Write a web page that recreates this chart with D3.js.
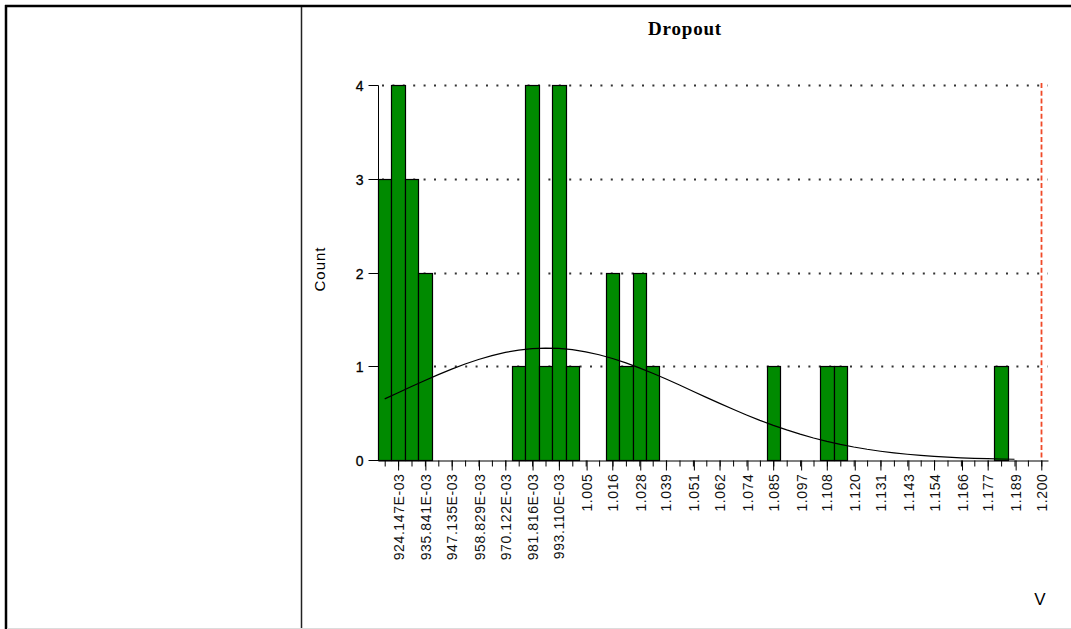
<!DOCTYPE html>
<html>
<head>
<meta charset="utf-8">
<script src="https://cdn.jsdelivr.net/npm/d3@7"></script>
<style>
  html, body { margin: 0; padding: 0; background: #fff; }
  svg { display: block; }
</style>
</head>
<body>
<svg id="chart" width="1071" height="629"></svg>
<script>
// Dropout voltage histogram: bin centres (V) and counts of the occupied bins
const binCenters = [0.91840, 0.92415, 0.92989, 0.93564, 0.97587, 0.98162, 0.98736,
                    0.99311, 0.99886, 1.01610, 1.02185, 1.02759, 1.03334, 1.08506,
                    1.10805, 1.11380, 1.18276];
const binCounts  = [3, 4, 3, 2, 1, 4, 1, 4, 1, 2, 1, 2, 1, 1, 1, 1, 1];
const binWidth = 0.0057469;

// Labelled x ticks
const xTickValues = [0.924147, 0.935841, 0.947135, 0.958829, 0.970122, 0.981816, 0.993110,
                     1.005, 1.016, 1.028, 1.039, 1.051, 1.062, 1.074, 1.085, 1.097, 1.108,
                     1.120, 1.131, 1.143, 1.154, 1.166, 1.177, 1.189, 1.200];
const xTickLabels = ["924.147E-03", "935.841E-03", "947.135E-03", "958.829E-03", "970.122E-03",
                     "981.816E-03", "993.110E-03", "1.005", "1.016", "1.028", "1.039", "1.051",
                     "1.062", "1.074", "1.085", "1.097", "1.108", "1.120", "1.131", "1.143",
                     "1.154", "1.166", "1.177", "1.189", "1.200"];
const yTickValues = [0, 1, 2, 3, 4];
const upperLimit = 1.200;

const title = "Dropout";
const yTitle = "Count";
const unit = "V";

const svg = d3.select("#chart");

// ---- page frame -------------------------------------------------------
const frame = svg.append("g");
frame.append("line").attr("x1", 5).attr("x2", 1071).attr("y1", 6).attr("y2", 6)
  .attr("stroke", "#000").attr("stroke-width", 2.5);
frame.append("line").attr("x1", 6).attr("x2", 6).attr("y1", 5).attr("y2", 629)
  .attr("stroke", "#000").attr("stroke-width", 2.5);
frame.append("line").attr("x1", 301.5).attr("x2", 301.5).attr("y1", 7).attr("y2", 629)
  .attr("stroke", "#222").attr("stroke-width", 1.5);
frame.append("line").attr("x1", 7).attr("x2", 1071).attr("y1", 628.5).attr("y2", 628.5)
  .attr("stroke", "#dcdcdc").attr("stroke-width", 1);

// ---- scales -----------------------------------------------------------
const nBins = 50;
const firstCenter = xTickValues[0] - binWidth;
const x = d3.scaleLinear()
  .domain([firstCenter - binWidth / 2, firstCenter + (nBins - 0.5) * binWidth])
  .range([378, 1048]);
const y = d3.scaleLinear().domain([0, 4]).range([460, 85]);

const plot = svg.append("g");

// dotted horizontal grid
plot.append("g").selectAll("line")
  .data(yTickValues.filter(d => d > 0))
  .join("line")
  .attr("x1", x.range()[0] + 4).attr("x2", x.range()[1])
  .attr("y1", d => Math.round(y(d)) + 0.5).attr("y2", d => Math.round(y(d)) + 0.5)
  .attr("stroke", "#333").attr("stroke-width", 2)
  .attr("stroke-dasharray", "2,8.4");

// upper limit marker
plot.append("line")
  .attr("x1", Math.round(x(upperLimit)) + 0.5).attr("x2", Math.round(x(upperLimit)) + 0.5)
  .attr("y1", y(4) - 2).attr("y2", y(0))
  .attr("stroke", "#f04a28").attr("stroke-width", 1.8)
  .attr("stroke-dasharray", "5,2.7");

// histogram bars
const bins = binCenters.map((c, i) => ({ x0: c - binWidth / 2, x1: c + binWidth / 2, n: binCounts[i] }));
plot.append("g").selectAll("rect")
  .data(bins)
  .join("rect")
  .attr("x", d => Math.round(x(d.x0)) + 0.5)
  .attr("width", d => Math.round(x(d.x1)) - Math.round(x(d.x0)))
  .attr("y", d => Math.round(y(d.n)) + 0.5)
  .attr("height", d => Math.round(y(0)) - Math.round(y(d.n)))
  .attr("fill", "#008a00")
  .attr("stroke", "#000").attr("stroke-width", 1.2);

// fitted normal curve, scaled to counts per bin
const total = d3.sum(binCounts);
const mean = d3.sum(binCenters, (c, i) => c * binCounts[i]) / total;
const sd = Math.sqrt(d3.sum(binCenters, (c, i) => binCounts[i] * (c - mean) ** 2) / total);
const expected = v => total * binWidth * Math.exp(-0.5 * ((v - mean) / sd) ** 2) / (sd * Math.sqrt(2 * Math.PI));
const curveX = d3.range(0, 48).map(i => firstCenter + i * binWidth);
plot.append("path")
  .datum(curveX)
  .attr("fill", "none").attr("stroke", "#000").attr("stroke-width", 1.2)
  .attr("d", d3.line().x(v => x(v)).y(v => y(expected(v))));

// ---- axes -------------------------------------------------------------
const axisFont = "'Liberation Sans', Arial, sans-serif";

// y axis
const yAxis = plot.append("g")
  .attr("transform", "translate(378.5,0)")
  .call(d3.axisLeft(y).tickValues(yTickValues).tickFormat(d3.format("d")).tickSize(10).tickPadding(5));
yAxis.select(".domain").attr("d", `M0,${y(4) + 0.5}V${y(0) + 0.5}`).attr("stroke", "#000");
yAxis.selectAll(".tick line").attr("stroke", "#000");
yAxis.selectAll(".tick").attr("transform", d => `translate(0,${Math.round(y(d)) + 0.5})`);
yAxis.selectAll("text")
  .attr("font-family", axisFont).attr("font-size", 14).attr("fill", "#000")
  .attr("stroke", "#000").attr("stroke-width", 0.3)
  .attr("dy", "0.36em");

// x axis: minor ticks at every bin centre, major labelled ticks
const minorTicks = d3.range(nBins).map(i => firstCenter + i * binWidth);
const xMinor = plot.append("g")
  .attr("transform", "translate(0,460.5)")
  .call(d3.axisBottom(x).tickValues(minorTicks).tickFormat("").tickSize(6).tickSizeOuter(0));
xMinor.select(".domain").attr("stroke", "#000").attr("stroke-width", 1.2);
xMinor.selectAll(".tick line").attr("stroke", "#000");

const xMajor = plot.append("g")
  .attr("transform", "translate(0,460.5)")
  .call(d3.axisBottom(x).tickValues(xTickValues).tickFormat((d, i) => xTickLabels[i]).tickSize(10).tickSizeOuter(0));
xMajor.select(".domain").remove();
xMajor.selectAll(".tick line").attr("stroke", "#000");
xMajor.selectAll("text")
  .attr("font-family", axisFont).attr("font-size", 14).attr("fill", "#111")
  .attr("letter-spacing", 0.6)
  .attr("transform", "rotate(-90)")
  .attr("text-anchor", "end")
  .attr("x", -13).attr("y", 0).attr("dy", "0.36em");

// ---- titles -----------------------------------------------------------
svg.append("text")
  .attr("x", 685).attr("y", 35)
  .attr("text-anchor", "middle")
  .attr("font-family", "'Liberation Serif', 'Times New Roman', serif")
  .attr("font-weight", "bold").attr("font-size", 19)
  .attr("letter-spacing", 0.8)
  .text(title);

svg.append("text")
  .attr("transform", "translate(325,269) rotate(-90)")
  .attr("text-anchor", "middle")
  .attr("font-family", axisFont).attr("font-size", 15)
  .attr("letter-spacing", 1)
  .text(yTitle);

svg.append("text")
  .attr("x", 1040).attr("y", 605)
  .attr("text-anchor", "middle")
  .attr("font-family", axisFont).attr("font-size", 17)
  .text(unit);
</script>
</body>
</html>
